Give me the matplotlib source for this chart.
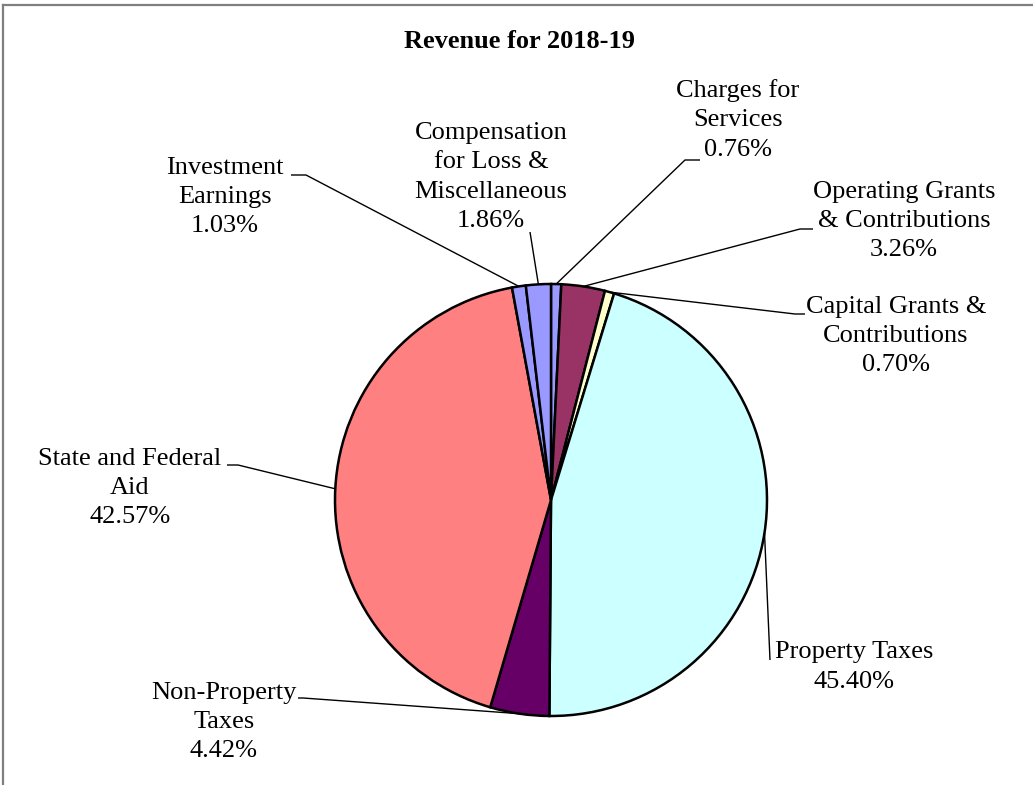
import numpy as np
import matplotlib
matplotlib.use("Agg")
import matplotlib.pyplot as plt
from matplotlib.lines import Line2D

# ---- data ----
categories = ["Charges for\nServices", "Operating Grants\n& Contributions",
              "Capital Grants &\nContributions", "Property Taxes",
              "Non-Property\nTaxes", "State and Federal\nAid",
              "Investment\nEarnings", "Compensation\nfor Loss &\nMiscellaneous"]
values = [0.76, 3.26, 0.70, 45.40, 4.42, 42.57, 1.03, 1.86]
colors = ["#9999FF", "#993366", "#FFFFCC", "#CCFFFF",
          "#660066", "#FF8080", "#9999FF", "#9999FF"]
title = "Revenue for 2018-19"

# ---- layout (pixel positions, y measured from top) ----
W, H = 1033, 785
center_px = (551, 500)
radius = 216
label_pos = [(738, 120), (904, 221), (896, 336), (854, 667),
             (224, 722), (130, 488), (225, 197), (491, 177)]
elbows = [((685, 160), (700, 160)), ((800, 229), (813, 229)),
          ((795, 314), (805, 314)), ((770, 660), (770, 660)),
          ((303, 698), (298, 698)), ((238, 465), (227, 465)),
          ((306, 175), (291, 175)), ((530, 232), (530, 232))]

font = "Liberation Serif"

fig = plt.figure(figsize=(W / 100, H / 100), dpi=100)
ax = fig.add_axes([0, 0, 1, 1])

def fy(y):
    return H - y

cx, cy = center_px[0], fy(center_px[1])
wedges, _ = ax.pie(values, colors=colors, startangle=90, counterclock=False,
                   center=(cx, cy), radius=radius,
                   wedgeprops=dict(edgecolor="black", linewidth=1.8))
ax.set_xlim(0, W)
ax.set_ylim(0, H)
ax.set_aspect("equal")
ax.axis("off")

for w, name, v, (lx, ly), (e1, e2) in zip(wedges, categories, values, label_pos, elbows):
    mid = np.deg2rad((w.theta1 + w.theta2) / 2)
    ax0 = cx + radius * np.cos(mid)
    ay0 = cy + radius * np.sin(mid)
    ax.plot([ax0, e1[0], e2[0]], [ay0, fy(e1[1]), fy(e2[1])],
            color="black", lw=1.0, solid_capstyle="butt", zorder=5)
    ax.text(lx, fy(ly), f"{name}\n{v:.2f}%", ha="center", va="center",
            multialignment="center", fontsize=19, family=font,
            linespacing=1.44, color="black")

ax.text(519, fy(42), title, ha="center", va="center", fontsize=19,
        fontweight="bold", family=font)

# chart frame (top & left visible)
fig.add_artist(Line2D([3 / W, 1], [1 - 5 / H, 1 - 5 / H], color="#7f7f7f", lw=1.6))
fig.add_artist(Line2D([3 / W, 3 / W], [0, 1 - 5 / H], color="#7f7f7f", lw=1.6))

fig.savefig("out.png", dpi=100, facecolor="white")
